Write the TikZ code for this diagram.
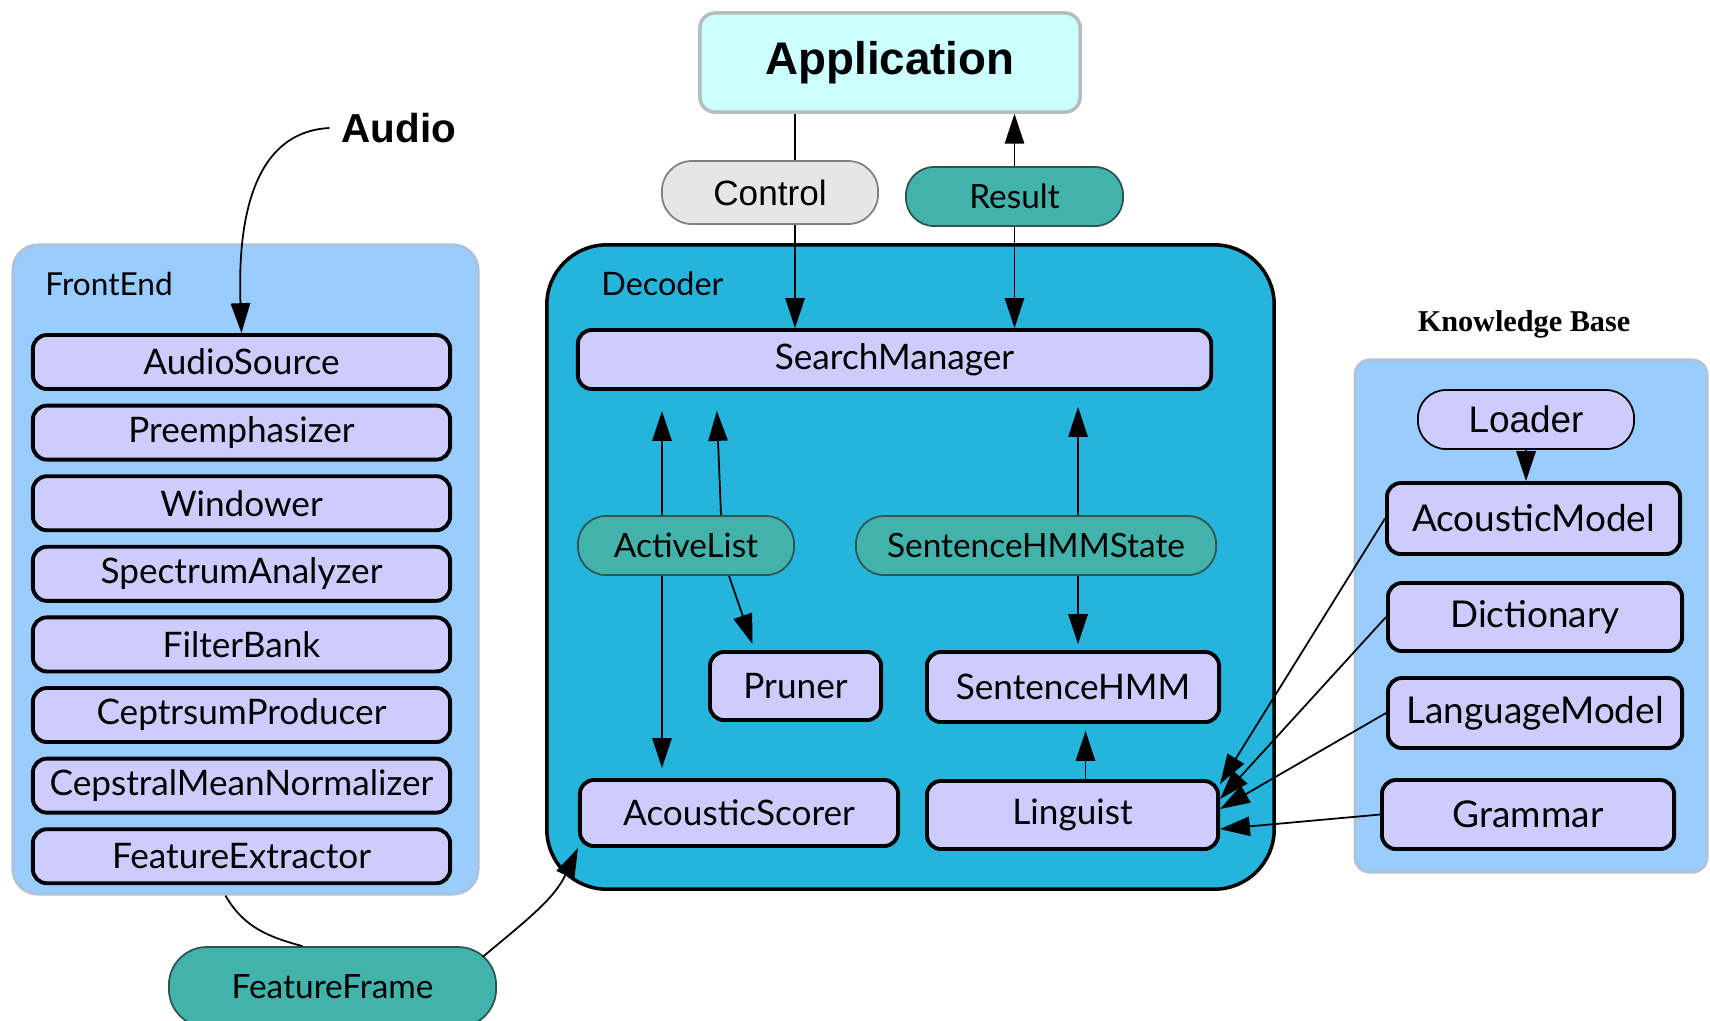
\documentclass[tikz,border=0pt]{standalone}
\usepackage{fontspec}
\setmainfont{Lato}
\newfontfamily\arialfont{Liberation Sans}
\newfontfamily\timesfont{Liberation Serif}
\usetikzlibrary{arrows.meta,calc,positioning}

\begin{document}
\begin{tikzpicture}[x=0.01cm,y=-0.01cm,>={Triangle[length=8.5pt,width=5.5pt]},
    font=\fontsize{10}{12}\selectfont,
    group/.style={fill=GroupFill,draw=GroupEdge,line width=0.8pt},
    comp/.style={fill=CompFill,draw=black,line width=1.1pt,rounded corners=0.14cm,inner sep=0pt},
    datum/.style={fill=DataFill,draw=DataEdge,line width=0.5pt,inner sep=0pt,font=\fontsize{9.5}{11}\selectfont},
    link/.style={line width=0.5pt}]
  %--- Theme colors ---
  \definecolor{GroupFill}{HTML}{99CCFF}   % FrontEnd / Knowledge Base
  \definecolor{GroupEdge}{HTML}{AFC3D6}
  \definecolor{CompFill}{HTML}{CCCCFF}    % lavender components
  \definecolor{DecFill}{HTML}{24B4DC}     % decoder block
  \definecolor{DataFill}{HTML}{42B3AB}    % teal data objects
  \definecolor{DataEdge}{HTML}{2E5552}
  \definecolor{AppFill}{HTML}{CCFFFF}
  \definecolor{AppEdge}{HTML}{B4BEBE}
  \definecolor{CtlFill}{HTML}{E6E6E6}

  \useasboundingbox (0,0) rectangle (1710,1020);

  %--- Group blocks ---
  \node[group,minimum width=4.65cm,minimum height=6.49cm,rounded corners=0.25cm] (frontend) at (245.5,569.5) {};
  \node[anchor=west,font=\fontsize{9}{11}\selectfont] (felabel) at (33,284) {FrontEnd};
  \node[fill=DecFill,draw=black,line width=1pt,minimum width=7.27cm,minimum height=6.44cm,rounded corners=0.6cm] (decoder) at (910.5,567) {};
  \node[anchor=west,font=\fontsize{9.2}{11}\selectfont] (declabel) at (589,284) {Decoder};
  \node[group,minimum width=3.52cm,minimum height=5.12cm,rounded corners=0.15cm] (kb) at (1531,616) {};
  \node[font=\timesfont\bfseries\fontsize{8.6}{10}\selectfont] (kblabel) at (1524,324) {Knowledge Base};

  %--- Front end chain ---
  \foreach \name [count=\i] in {AudioSource,Preemphasizer,Windower,SpectrumAnalyzer,FilterBank,CeptrsumProducer,CepstralMeanNormalizer,FeatureExtractor}
    \node[comp,minimum width=4.17cm,minimum height=0.54cm] (fe\i) at (241.5,{362+70.6*(\i-1)}) {\name};
  \node[font=\arialfont\bfseries\fontsize{11.5}{13}\selectfont] (audio) at (399,128) {Audio};
  \node[datum,minimum width=3.27cm,minimum height=0.8cm,rounded corners=0.38cm] (ff) at (332.5,987) {FeatureFrame};

  %--- Application side ---
  \node[fill=AppFill,draw=AppEdge,line width=1pt,rounded corners=0.15cm,minimum width=3.8cm,minimum height=0.99cm,
        font=\arialfont\bfseries\fontsize{13}{15}\selectfont] (app) at (890,62.5) {Application};
  \node[fill=CtlFill,draw=gray,line width=0.5pt,rounded corners=0.3cm,minimum width=2.16cm,minimum height=0.63cm,
        font=\arialfont\fontsize{10}{12}\selectfont] (ctl) at (770,192.5) {Control};
  \node[datum,minimum width=2.17cm,minimum height=0.59cm,rounded corners=0.28cm] (res) at (1014.5,196.5) {Result};

  %--- Decoder parts ---
  \node[comp,minimum width=6.33cm,minimum height=0.59cm] (sm) at (894.5,359.5) {SearchManager};
  \node[datum,minimum width=2.16cm,minimum height=0.59cm,rounded corners=0.28cm] (al) at (686,545.5) {ActiveList};
  \node[datum,minimum width=3.6cm,minimum height=0.59cm,rounded corners=0.28cm] (st) at (1036,545.5) {SentenceHMMState};
  \node[comp,minimum width=1.71cm,minimum height=0.68cm] (pr) at (795.5,686) {Pruner};
  \node[comp,minimum width=2.92cm,minimum height=0.7cm] (shmm) at (1073,687) {SentenceHMM};
  \node[comp,minimum width=3.18cm,minimum height=0.66cm] (as) at (739,813) {AcousticScorer};
  \node[comp,minimum width=2.91cm,minimum height=0.68cm] (lg) at (1072.5,815) {Linguist};

  %--- Knowledge base parts ---
  \node[fill=CompFill,draw=black,line width=0.5pt,rounded corners=0.28cm,minimum width=2.16cm,minimum height=0.59cm,
        font=\arialfont\fontsize{10.5}{12}\selectfont] (lo) at (1526,419.5) {Loader};
  \node[comp,minimum width=2.93cm,minimum height=0.71cm,font=\fontsize{10.5}{12}\selectfont] (am) at (1533.5,518.5) {AcousticModel};
  \node[comp,minimum width=2.94cm,minimum height=0.68cm,font=\fontsize{10.5}{12}\selectfont] (di) at (1535,617) {Dictionary};
  \node[comp,minimum width=2.94cm,minimum height=0.7cm,font=\fontsize{10.5}{12}\selectfont] (lm) at (1535,713) {LanguageModel};
  \node[comp,minimum width=2.92cm,minimum height=0.69cm,font=\fontsize{10.5}{12}\selectfont] (gr) at (1528,814.5) {Grammar};

  %--- helper columns for the vertical links ---
  \coordinate (ctlx) at ([xshift=0.25cm]ctl.center);
  \coordinate (alL) at ([xshift=-0.24cm]al.center);
  \coordinate (alR) at ([xshift=0.35cm]al.center);
  \coordinate (smR) at (alR |- sm.south);
  \coordinate (stx) at ([xshift=0.42cm]st.center);
  \coordinate (lgx) at ([xshift=0.13cm]lg.center);

  %--- Links ---
  \draw[link,->] (audio.west) to[out=183,in=92] (fe1.north);
  \draw[link] ([xshift=-0.2cm]frontend.south) to[out=-60,in=165] ([xshift=-0.3cm]ff.north);
  \draw[link,->] ([xshift=1.5cm,yshift=0.3cm]ff.center) to[out=40,in=-115] (as.south west);
  \draw[link] (ctlx |- app.south) -- (ctlx |- ctl.north);
  \draw[link,->] (ctlx |- ctl.south) -- (ctlx |- sm.north);
  \draw[link,->] (res.north) -- (res.north |- app.south);
  \draw[link,->] (res.south) -- (res.south |- sm.north);
  \draw[link,->,shorten >=0.2cm] (alL |- al.north) -- (alL |- sm.south);
  \draw[link,->,shorten >=0.2cm] (alR |- al.north) -- ([xshift=-0.05cm]smR);
  \draw[link,->,shorten >=0.1cm] (alL |- al.south) -- (alL |- as.north);
  \draw[link,->] ([xshift=0.43cm]al.south) -- ([xshift=-0.43cm,yshift=0.06cm]pr.north);
  \draw[link,->,shorten >=0.16cm] (stx |- st.north) -- (stx |- sm.south);
  \draw[link,->,shorten >=0.06cm] (stx |- st.south) -- (stx |- shmm.north);
  \draw[link,->,shorten >=0.07cm] (lgx |- lg.north) -- (lgx |- shmm.south);
  \draw[link,->] (lo.south) -- (lo.south |- am.north);
  \draw[link,->] (am.west) -- ([yshift=0.31cm]lg.east);
  \draw[link,->] (di.west) -- ([yshift=0.16cm]lg.east);
  \draw[link,->] (lm.west) -- ([yshift=0.06cm]lg.east);
  \draw[link,->] (gr.west) -- ([yshift=-0.14cm]lg.east);
\end{tikzpicture}
\end{document}
